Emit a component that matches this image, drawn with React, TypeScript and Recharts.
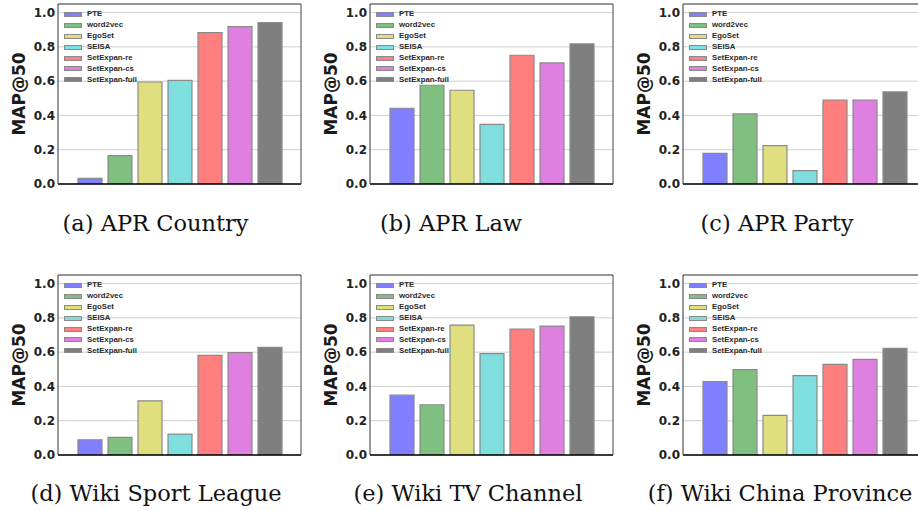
import React from 'react';
import { BarChart, Bar, XAxis, YAxis, CartesianGrid, Legend } from 'recharts';

const METHODS = ['PTE', 'word2vec', 'EgoSet', 'SEISA', 'SetExpan-re', 'SetExpan-cs', 'SetExpan-full'];
const COLORS = ['#7f7fff', '#7fbf7f', '#dfdf7f', '#7fdfdf', '#ff7f7f', '#df7fdf', '#7f7f7f'];
const Y_TICKS = [0, 0.2, 0.4, 0.6, 0.8, 1.0];
const TOP_TICKS = [0, 1, 2, 3, 4, 5, 6];

const APR_COUNTRY = [0.033, 0.165, 0.595, 0.605, 0.883, 0.918, 0.942];
const APR_LAW = [0.442, 0.576, 0.547, 0.348, 0.751, 0.706, 0.817];
const APR_PARTY = [0.179, 0.409, 0.224, 0.078, 0.49, 0.49, 0.537];
const WIKI_SPORT = [0.089, 0.103, 0.316, 0.122, 0.581, 0.597, 0.628];
const WIKI_TV = [0.349, 0.293, 0.758, 0.591, 0.734, 0.752, 0.806];
const WIKI_CHINA = [0.428, 0.498, 0.231, 0.463, 0.529, 0.558, 0.622];

const CAPTIONS = [
  '(a) APR Country',
  '(b) APR Law',
  '(c) APR Party',
  '(d) Wiki Sport League',
  '(e) Wiki TV Channel',
  '(f) Wiki China Province',
];

const PANEL_VALUES = [APR_COUNTRY, APR_LAW, APR_PARTY, WIKI_SPORT, WIKI_TV, WIKI_CHINA];
const PANEL_POS = [
  { left: 58, top: 4, cx: 155.5, by: 231 },
  { left: 370, top: 4, cx: 451, by: 231 },
  { left: 683, top: 4, cx: 777, by: 231 },
  { left: 58, top: 275, cx: 156, by: 501 },
  { left: 370, top: 275, cx: 468, by: 501 },
  { left: 683, top: 275, cx: 780, by: 501 },
];

const AXIS_W = 78;
const PLOT_W = 244;
const PLOT_H = 180;
const M_TOP = 4;
const M_BOTTOM = 12;

const LegendContent = (props: any) => {
  const payload = [...(props.payload || [])].sort(
    (a: any, b: any) => METHODS.indexOf(a.value) - METHODS.indexOf(b.value)
  );
  return (
    <div style={{ display: 'flex', flexDirection: 'column' }}>
      {payload.map((e: any) => (
        <div key={e.value} style={{ display: 'flex', alignItems: 'center', height: 10.9 }}>
          <span
            style={{
              display: 'inline-block',
              width: 16,
              height: 3,
              background: e.color,
              border: '1px solid #8a8a8a',
              marginRight: 5,
            }}
          />
          <span
            style={{
              fontFamily: '"Liberation Sans", Arial, sans-serif',
              fontWeight: 'bold',
              fontSize: 7.8,
              color: '#2a2a2a',
              lineHeight: '10px',
              whiteSpace: 'nowrap',
            }}
          >
            {e.value}
          </span>
        </div>
      ))}
    </div>
  );
};

function Panel({ values, left, top }: { values: number[]; left: number; top: number }) {
  const row: any = { name: 'all' };
  METHODS.forEach((m, i) => {
    row[m] = values[i];
  });
  const data = [row];
  return (
    <div style={{ position: 'absolute', left: left - AXIS_W, top: top - M_TOP }}>
      <BarChart
        width={AXIS_W + PLOT_W + 2}
        height={M_TOP + PLOT_H + M_BOTTOM}
        data={data}
        margin={{ top: M_TOP, right: 2, bottom: M_BOTTOM - 1, left: 0 }}
        barSize={24}
        barGap={6}
        barCategoryGap={0}
      >
        <CartesianGrid
          xAxisId="b"
          yAxisId="l"
          vertical={false}
          stroke="#cfcfcf"
          strokeWidth={1}
        />
        <XAxis
          xAxisId="b"
          dataKey="name"
          height={1}
          tick={false}
          tickLine={false}
          stroke="#000"
          strokeWidth={1.5}
          axisLine
        />
        <XAxis
          xAxisId="t"
          orientation="top"
          type="number"
          domain={[-1.0667, 7.0667]}
          allowDataOverflow
          ticks={TOP_TICKS}
          interval={0}
          height={1}
          mirror
          tick={false}
          tickSize={3}
          stroke="#444"
          axisLine
          tickLine
        />
        <YAxis
          yAxisId="l"
          width={AXIS_W}
          domain={[0, 1.05]}
          ticks={Y_TICKS}
          interval={0}
          allowDataOverflow
          tickFormatter={(v: number) => v.toFixed(1)}
          tickLine={false}
          tickSize={0}
          tickMargin={3}
          stroke="#333"
          axisLine
          tick={{ fontFamily: '"DejaVu Sans", sans-serif', fontWeight: 'bold', fontSize: 12, fill: '#222', stroke: 'none' }}
          label={{
            value: 'MAP@50',
            angle: -90,
            position: 'center',
            fontFamily: '"DejaVu Sans", sans-serif',
            fontWeight: 'bold',
            fontSize: 17,
            fill: '#1a1a1a',
          }}
        />
        <YAxis
          yAxisId="r"
          orientation="right"
          width={1}
          domain={[0, 1.05]}
          allowDataOverflow
          tick={false}
          tickLine={false}
          stroke="#444"
          axisLine
        />
        <Legend
          layout="vertical"
          align="center"
          verticalAlign="middle"
          itemSorter={null as any}
          wrapperStyle={{ left: AXIS_W + 6, top: M_TOP + 5, width: 'auto', height: 'auto' }}
          content={LegendContent}
        />
        {METHODS.map((m, i) => (
          <Bar
            key={m}
            xAxisId="b"
            yAxisId="l"
            dataKey={m}
            name={m}
            fill={COLORS[i]}
            stroke="#8a8a8a"
            strokeWidth={1.2}
            isAnimationActive={false}
          />
        ))}
      </BarChart>
    </div>
  );
}

export default function App() {
  return (
    <div
      style={{
        position: 'absolute',
        left: 0,
        top: 0,
        width: 918,
        height: 510,
        overflow: 'hidden',
        background: '#fff',
      }}
    >
      {PANEL_VALUES.map((vals, i) => (
        <Panel key={i} values={vals} left={PANEL_POS[i].left} top={PANEL_POS[i].top} />
      ))}
      <svg width={918} height={510} style={{ position: 'absolute', left: 0, top: 0, pointerEvents: 'none' }}>
        {CAPTIONS.map((c, i) => (
          <text
            key={c}
            x={PANEL_POS[i].cx}
            y={PANEL_POS[i].by}
            textAnchor="middle"
            fontFamily='"DejaVu Serif", serif'
            fontSize={22.5}
            fill="#111"
          >
            {c}
          </text>
        ))}
      </svg>
    </div>
  );
}
